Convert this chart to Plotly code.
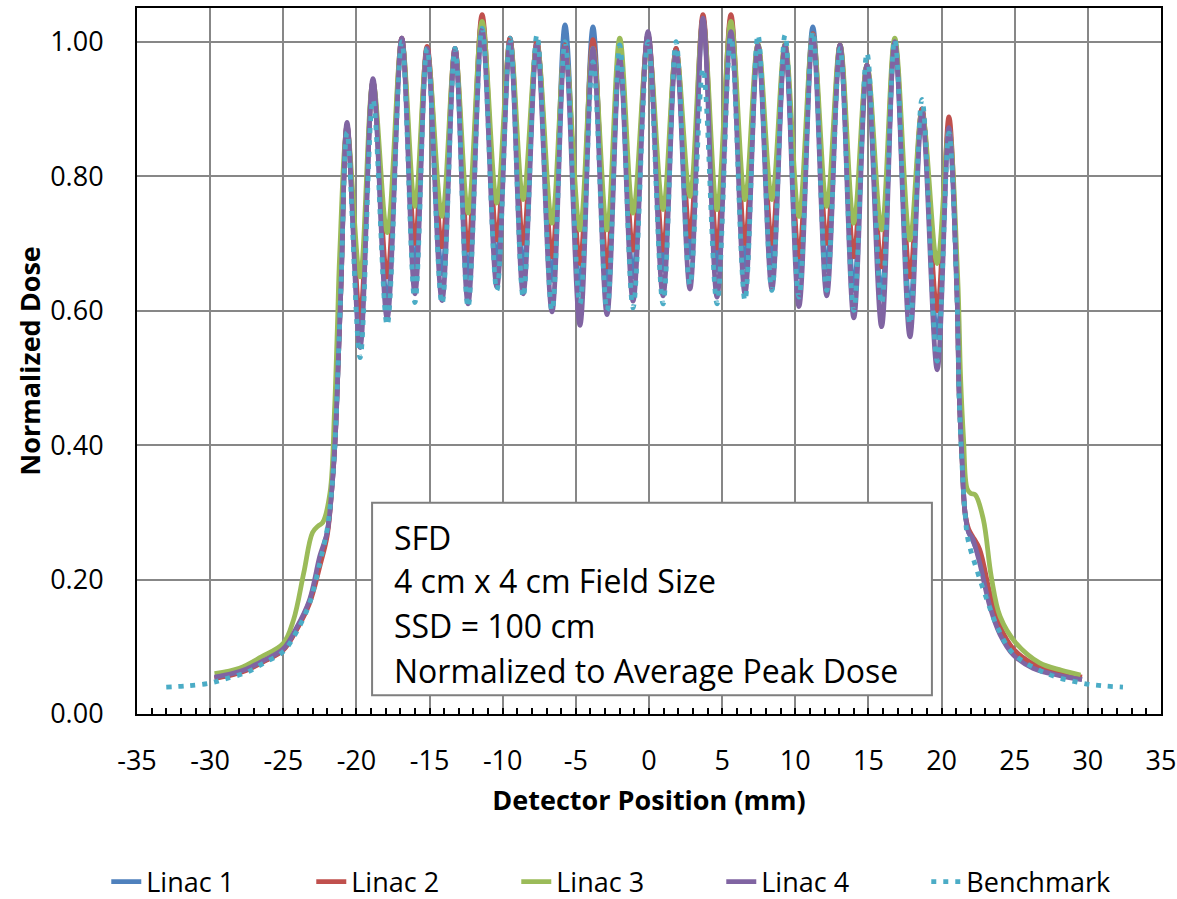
import plotly.graph_objects as go

# Positions (mm) of the dose maxima and minima across the field
peak_x = [-20.64, -18.87, -16.90, -15.17, -13.26, -11.41, -9.50, -7.66, -5.74, -3.83, -2.00, -0.07,
          1.85, 3.69, 5.60, 7.45, 9.30, 11.20, 13.06, 14.90, 16.80, 18.66, 20.50]
valley_x = [-19.75, -17.90, -16.00, -14.15, -12.37, -10.40, -8.60, -6.63, -4.72, -2.87, -1.09,
            0.96, 2.80, 4.65, 6.56, 8.40, 10.25, 12.15, 14.00, 15.90, 17.84, 19.70]

# Linac 1
linac1_peaks = [0.875, 0.940, 1.005, 0.990, 0.990, 1.035, 1.005, 1.000, 1.025, 1.022, 0.980, 1.010,
                0.990, 1.035, 1.035, 0.995, 0.995, 1.022, 0.995, 0.965, 1.000, 0.900, 0.875]
linac1_valleys = [0.570, 0.610, 0.660, 0.655, 0.650, 0.670, 0.660, 0.645, 0.630, 0.630, 0.650,
                  0.660, 0.680, 0.660, 0.665, 0.670, 0.650, 0.660, 0.630, 0.620, 0.600, 0.560]
linac1_left_x = [-29.7, -28.5, -27.5, -26.4, -25.0, -24.1, -23.2, -22.5, -22.0, -21.7, -21.45, -21.25, -21.05]
linac1_left_y = [0.054, 0.059, 0.066, 0.078, 0.096, 0.126, 0.168, 0.225, 0.270, 0.330, 0.410, 0.520, 0.640]
linac1_right_x = [21.05, 21.2, 21.4, 21.6, 21.85, 22.1, 22.6, 23.3, 24.0, 24.9, 26.25, 28.1, 29.6]
linac1_right_y = [0.630, 0.480, 0.380, 0.300, 0.270, 0.260, 0.230, 0.165, 0.120, 0.090, 0.070, 0.058, 0.052]

# Linac 2
linac2_peaks = [0.875, 0.940, 1.005, 0.993, 0.990, 1.040, 1.005, 1.000, 0.995, 1.003, 0.975, 1.010,
                0.990, 1.040, 1.040, 0.995, 0.995, 1.012, 0.995, 0.965, 1.000, 0.900, 0.888]
linac2_valleys = [0.590, 0.650, 0.700, 0.695, 0.690, 0.705, 0.700, 0.680, 0.670, 0.665, 0.690,
                  0.690, 0.710, 0.693, 0.700, 0.700, 0.680, 0.700, 0.680, 0.665, 0.650, 0.600]
linac2_left_x = [-29.7, -28.5, -27.5, -26.4, -25.0, -24.1, -23.2, -22.5, -22.0, -21.7, -21.45, -21.25, -21.05]
linac2_left_y = [0.053, 0.058, 0.065, 0.077, 0.095, 0.125, 0.165, 0.220, 0.265, 0.330, 0.410, 0.520, 0.640]
linac2_right_x = [21.05, 21.2, 21.4, 21.6, 21.85, 22.1, 22.6, 23.3, 24.0, 24.9, 26.25, 28.1, 29.6]
linac2_right_y = [0.630, 0.480, 0.380, 0.300, 0.275, 0.265, 0.245, 0.180, 0.130, 0.097, 0.075, 0.062, 0.055]

# Linac 3
linac3_peaks = [0.870, 0.940, 1.000, 0.985, 0.985, 1.030, 1.000, 0.995, 0.990, 0.990, 1.005, 1.000,
                0.985, 1.030, 1.030, 0.997, 0.997, 1.010, 0.995, 0.965, 1.005, 0.895, 0.870]
linac3_valleys = [0.650, 0.716, 0.755, 0.740, 0.745, 0.760, 0.765, 0.730, 0.720, 0.720, 0.745,
                  0.750, 0.770, 0.750, 0.765, 0.765, 0.740, 0.755, 0.730, 0.720, 0.705, 0.670]
linac3_left_x = [-29.7, -28.0, -26.5, -25.0, -24.3, -23.6, -23.0, -22.6, -22.3, -21.8, -21.5, -21.3, -21.15]
linac3_left_y = [0.060, 0.068, 0.085, 0.105, 0.140, 0.210, 0.270, 0.280, 0.285, 0.330, 0.450, 0.576, 0.680]
linac3_right_x = [21.1, 21.3, 21.5, 21.75, 22.0, 22.3, 22.85, 23.4, 24.0, 25.1, 26.7, 28.2, 29.5]
linac3_right_y = [0.650, 0.500, 0.410, 0.335, 0.328, 0.326, 0.290, 0.204, 0.145, 0.105, 0.076, 0.065, 0.058]

# Linac 4
linac4_peaks = [0.880, 0.945, 1.005, 0.990, 0.990, 1.018, 1.000, 0.995, 0.993, 0.990, 0.975, 1.015,
                0.985, 1.035, 1.015, 0.995, 0.995, 1.010, 0.995, 0.965, 1.000, 0.895, 0.872]
linac4_valleys = [0.545, 0.588, 0.625, 0.615, 0.610, 0.635, 0.625, 0.598, 0.578, 0.594, 0.614,
                  0.622, 0.632, 0.620, 0.625, 0.632, 0.606, 0.622, 0.589, 0.576, 0.561, 0.512]
linac4_left_x = [-29.7, -28.5, -27.5, -26.4, -25.0, -24.1, -23.2, -22.5, -22.0, -21.7, -21.45, -21.25, -21.05]
linac4_left_y = [0.055, 0.060, 0.067, 0.079, 0.097, 0.128, 0.170, 0.235, 0.270, 0.330, 0.410, 0.520, 0.640]
linac4_right_x = [21.05, 21.2, 21.4, 21.6, 21.85, 22.1, 22.6, 23.3, 24.0, 24.9, 26.25, 28.1, 29.6]
linac4_right_y = [0.630, 0.480, 0.380, 0.300, 0.270, 0.262, 0.225, 0.160, 0.118, 0.088, 0.068, 0.057, 0.051]

# Benchmark
bench_peaks = [0.865, 0.914, 1.000, 0.990, 0.990, 1.020, 1.005, 1.010, 1.000, 0.970, 0.995, 1.000,
               1.000, 0.960, 1.007, 1.010, 1.010, 1.015, 0.990, 0.983, 1.003, 0.914, 0.864]
bench_valleys = [0.530, 0.578, 0.612, 0.610, 0.605, 0.630, 0.620, 0.600, 0.610, 0.600, 0.604,
                 0.610, 0.638, 0.610, 0.615, 0.630, 0.620, 0.630, 0.600, 0.610, 0.580, 0.525]
bench_left_x = [-33.0, -31.5, -30.0, -29.0, -27.5, -26.4, -25.0, -24.1, -23.2, -22.5, -22.0, -21.7,
                -21.45, -21.25, -21.05]
bench_left_y = [0.040, 0.042, 0.046, 0.052, 0.062, 0.075, 0.093, 0.122, 0.165, 0.225, 0.275, 0.330,
                0.410, 0.520, 0.640]
bench_right_x = [21.05, 21.2, 21.4, 21.6, 21.8, 22.4, 23.1, 23.8, 24.9, 27.2, 29.6, 31.0, 32.4]
bench_right_y = [0.620, 0.470, 0.370, 0.300, 0.260, 0.215, 0.170, 0.130, 0.090, 0.060, 0.046, 0.042, 0.040]

# Axis tick labels (plain hyphen-minus, as in the original worksheet chart)
x_tick_vals = [-35, -30, -25, -20, -15, -10, -5, 0, 5, 10, 15, 20, 25, 30, 35]
x_tick_text = ["-35", "-30", "-25", "-20", "-15", "-10", "-5", "0", "5", "10", "15", "20", "25", "30", "35"]

box_lines = ["SFD", "4 cm x 4 cm Field Size", "SSD = 100 cm", "Normalized to Average Peak Dose"]


def profile(left_x, left_y, peaks, valleys, right_x, right_y):
    """Join penumbra, alternating maxima/minima and tail into one profile."""
    xs, ys = list(left_x), list(left_y)
    for i, (px, py) in enumerate(zip(peak_x, peaks)):
        xs.append(px)
        ys.append(py)
        if i < len(valley_x):
            xs.append(valley_x[i])
            ys.append(valleys[i])
    xs += right_x
    ys += right_y
    return xs, ys


series = [
    ("Linac 1", "#4F81BD", "solid",
     profile(linac1_left_x, linac1_left_y, linac1_peaks, linac1_valleys, linac1_right_x, linac1_right_y)),
    ("Linac 2", "#C0504D", "solid",
     profile(linac2_left_x, linac2_left_y, linac2_peaks, linac2_valleys, linac2_right_x, linac2_right_y)),
    ("Linac 3", "#9BBB59", "solid",
     profile(linac3_left_x, linac3_left_y, linac3_peaks, linac3_valleys, linac3_right_x, linac3_right_y)),
    ("Linac 4", "#8064A2", "solid",
     profile(linac4_left_x, linac4_left_y, linac4_peaks, linac4_valleys, linac4_right_x, linac4_right_y)),
    ("Benchmark", "#4BACC6", "5px,7px",
     profile(bench_left_x, bench_left_y, bench_peaks, bench_valleys, bench_right_x, bench_right_y)),
]

fig = go.Figure()
for name, color, dash, (xs, ys) in series:
    fig.add_trace(go.Scatter(
        x=xs, y=ys, name=name, mode="lines",
        line=dict(color=color, width=4.8, dash=dash, shape="spline", smoothing=1.0),
    ))

font_family = "Open Sans"

fig.update_layout(
    width=1177, height=899,
    margin=dict(l=137, r=16, t=8, b=185, autoexpand=False),
    paper_bgcolor="white", plot_bgcolor="white",
    font=dict(family=font_family, color="black", size=27),
    showlegend=True,
    legend=dict(
        orientation="h", xref="paper", yref="paper",
        x=-0.03, xanchor="left", y=-0.238, yanchor="middle",
        font=dict(size=27), entrywidth=160, itemwidth=30,
        tracegroupgap=0,
    ),
)

fig.update_xaxes(
    range=[-35, 35], tickvals=x_tick_vals, ticktext=x_tick_text,
    showgrid=True, gridcolor="#878787", gridwidth=2,
    zeroline=False,
    showline=True, linecolor="black", linewidth=2, mirror=True,
    ticks="inside", ticklen=6, tickcolor="black", tickwidth=1.5,
    minor=dict(dtick=1, ticks="inside", ticklen=6, tickcolor="black", tickwidth=1.5, showgrid=False),
    tickfont=dict(size=27), ticklabelstandoff=22,
    title=dict(text="Detector Position (mm)", font=dict(size=27, weight="bold"), standoff=14),
)

fig.update_yaxes(
    range=[0, 1.05], dtick=0.2, tick0=0, tickformat=".2f",
    showgrid=True, gridcolor="#878787", gridwidth=2,
    zeroline=False,
    showline=True, linecolor="black", linewidth=2, mirror=True,
    ticks="", tickfont=dict(size=27), ticklabelstandoff=26,
    title=dict(text="Normalized Dose", font=dict(size=27, weight="bold"), standoff=2),
)

# Annotation box with the measurement conditions
fig.add_shape(type="rect", xref="x", yref="y",
              x0=-18.93, x1=19.34, y0=0.028, y1=0.314,
              line=dict(color="#7F7F7F", width=2), fillcolor="white", layer="above")
line_y = [0.263, 0.198, 0.131, 0.065]
for text, yy in zip(box_lines, line_y):
    fig.add_annotation(x=-17.57, y=yy, xref="x", yref="y", text=text, showarrow=False,
                       xanchor="left", yanchor="middle", font=dict(size=32, family=font_family))

fig.write_html("out.html")
